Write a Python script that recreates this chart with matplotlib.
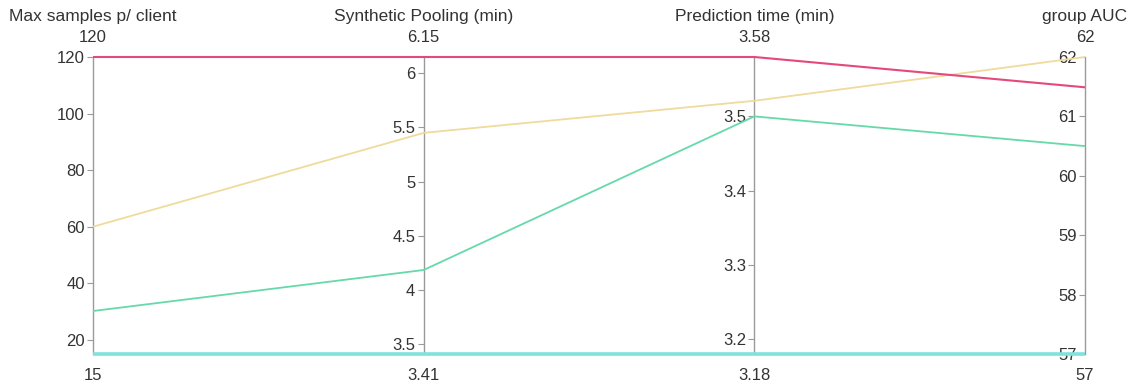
import numpy as np
import matplotlib.pyplot as plt

plt.rcParams['font.family'] = ['Liberation Sans', 'DejaVu Sans']

# Dimensions of the parallel coordinates plot
dims = ["Max samples p/ client", "Synthetic Pooling (min)", "Prediction time (min)", "group AUC"]
dim_min = [15, 3.41, 3.18, 57]
dim_max = [120, 6.15, 3.58, 62]
dim_ticks = [
    [20, 40, 60, 80, 100, 120],
    [3.5, 4, 4.5, 5, 5.5, 6],
    [3.2, 3.3, 3.4, 3.5],
    [57, 58, 59, 60, 61, 62],
]
min_labels = ["15", "3.41", "3.18", "57"]
max_labels = ["120", "6.15", "3.58", "62"]

# One record per run
run_a = [120, 6.15, 3.58, 61.49]
run_b = [60, 5.45, 3.521, 62]
run_c = [30.2, 4.185, 3.50, 60.50]
run_d = [15, 3.41, 3.18, 57]
runs = [run_d, run_c, run_b, run_a]
colors = ["#7ee3dc", "#66d9ab", "#efdb9c", "#e5497a"]
widths = [2.6, 1.3, 1.3, 1.5]

W, H = 1136, 388
fig = plt.figure(figsize=(W / 100, H / 100), dpi=100)

x0, x1 = 93, 1085
y0, y1 = 57, 354
left, right = x0 / W, x1 / W
bottom, top = 1 - y1 / H, 1 - y0 / H

ax = fig.add_axes([left, bottom, right - left, top - bottom])
ax.set_xlim(0, len(dims) - 1)
ax.set_ylim(0, 1)
ax.axis("off")

lo = np.array(dim_min, dtype=float)
hi = np.array(dim_max, dtype=float)
xs = np.arange(len(dims))
for vals, c, lw in zip(runs, colors, widths):
    norm = (np.array(vals, dtype=float) - lo) / (hi - lo)
    ax.plot(xs, norm, color=c, lw=lw, clip_on=False, solid_capstyle="butt", zorder=3)

# One thin axes per dimension, showing only its left spine
for i, name in enumerate(dims):
    xf = left + (right - left) * i / (len(dims) - 1)
    sub = fig.add_axes([xf, bottom, 0.0001, top - bottom])
    sub.set_ylim(dim_min[i], dim_max[i])
    sub.set_xticks([])
    for s in ["top", "right", "bottom"]:
        sub.spines[s].set_visible(False)
    sub.spines["left"].set_color("#9a9a9a")
    sub.spines["left"].set_linewidth(1.0)
    sub.set_yticks(dim_ticks[i])
    sub.set_yticklabels([f"{t:g}" for t in dim_ticks[i]])
    sub.tick_params(axis="y", length=4, width=0.8, color="#9a9a9a",
                    labelsize=12, labelcolor="#333333", pad=2)
    sub.patch.set_visible(False)
    sub.set_zorder(1)

    fig.text(xf, 1 - 16 / H, name, ha="center", va="center", fontsize=12.5, color="#333333")
    fig.text(xf, 1 - 37 / H, max_labels[i], ha="center", va="center", fontsize=12, color="#333333")
    fig.text(xf, 1 - 376 / H, min_labels[i], ha="center", va="center", fontsize=12, color="#333333")

ax.set_zorder(2)
fig.savefig("out.png", dpi=100)
